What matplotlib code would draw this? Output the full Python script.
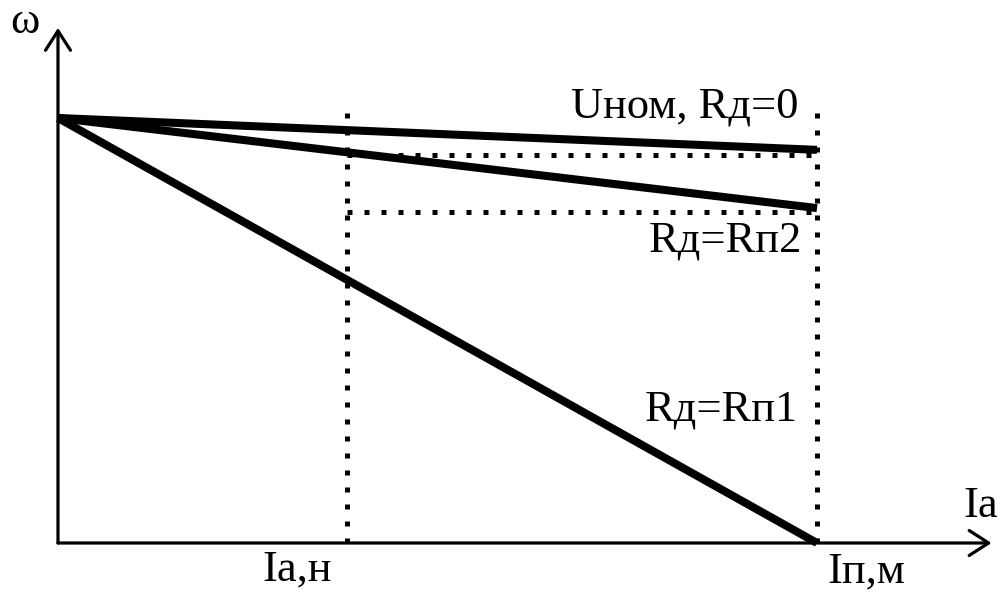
import matplotlib
matplotlib.use("Agg")
import matplotlib.pyplot as plt

# Speed-current characteristics of a DC motor (relative units)
omega0 = 1.0
current_nominal = 0.381          # Ia,н
current_limit = 1.0              # Iп,м
curve_labels = ["Uном, Rд=0", "Rд=Rп2", "Rд=Rп1"]
curve_end_speed = [0.925, 0.788, 0.0]   # ω at Iп,м for each curve
dotted_levels = [0.913, 0.779]          # horizontal guides

plt.rcParams["font.family"] = ["Liberation Serif", "DejaVu Serif"]
FS = 32

fig = plt.figure(figsize=(10, 5.94), dpi=100)
ax = fig.add_axes([0, 0, 1, 1])
ax.set_xlim(-0.0764, 1.2411)
ax.set_ylim(-0.12, 1.2776)
ax.axis("off")

# axes with open arrowheads
arrow = dict(arrowstyle="->,head_length=0.7,head_width=0.45", lw=2.3,
             color="black", shrinkA=0, shrinkB=0, mutation_scale=20)
ax.annotate("", xy=(1.23, 0), xytext=(0, 0), arrowprops=arrow)
ax.annotate("", xy=(0, 1.212), xytext=(0, 0), arrowprops=arrow)

# dotted guides
dot = dict(color="black", lw=3.6, linestyle=(0, (1, 2.4)), dash_capstyle="butt")
ax.plot([current_nominal, current_nominal], [0, 1.013], **dot)
ax.plot([current_limit, current_limit], [0, 1.04], **dot)
for lev in dotted_levels:
    ax.plot([current_nominal, current_limit], [lev, lev], **dot)

# characteristics
for end in curve_end_speed:
    ax.plot([0, current_limit], [omega0, end], color="black", lw=5.8,
            solid_capstyle="butt")

# labels
ax.text(0.975, 1.0, curve_labels[0], fontsize=FS, ha="right", va="baseline")
ax.text(0.98, 0.685, curve_labels[1], fontsize=FS, ha="right", va="baseline")
ax.text(0.975, 0.289, curve_labels[2], fontsize=FS, ha="right", va="baseline")
ax.text(0.315, -0.015, "Ia,н", fontsize=FS, ha="center", va="top")
ax.text(1.0646, -0.02, "Iп,м", fontsize=FS, ha="center", va="top")
ax.text(1.238, 0.061, "Ia", fontsize=FS, ha="right", va="baseline")
ax.text(-0.0435, 1.2, "ω", fontsize=FS, ha="center", va="baseline")

fig.savefig("out.png", dpi=100)
